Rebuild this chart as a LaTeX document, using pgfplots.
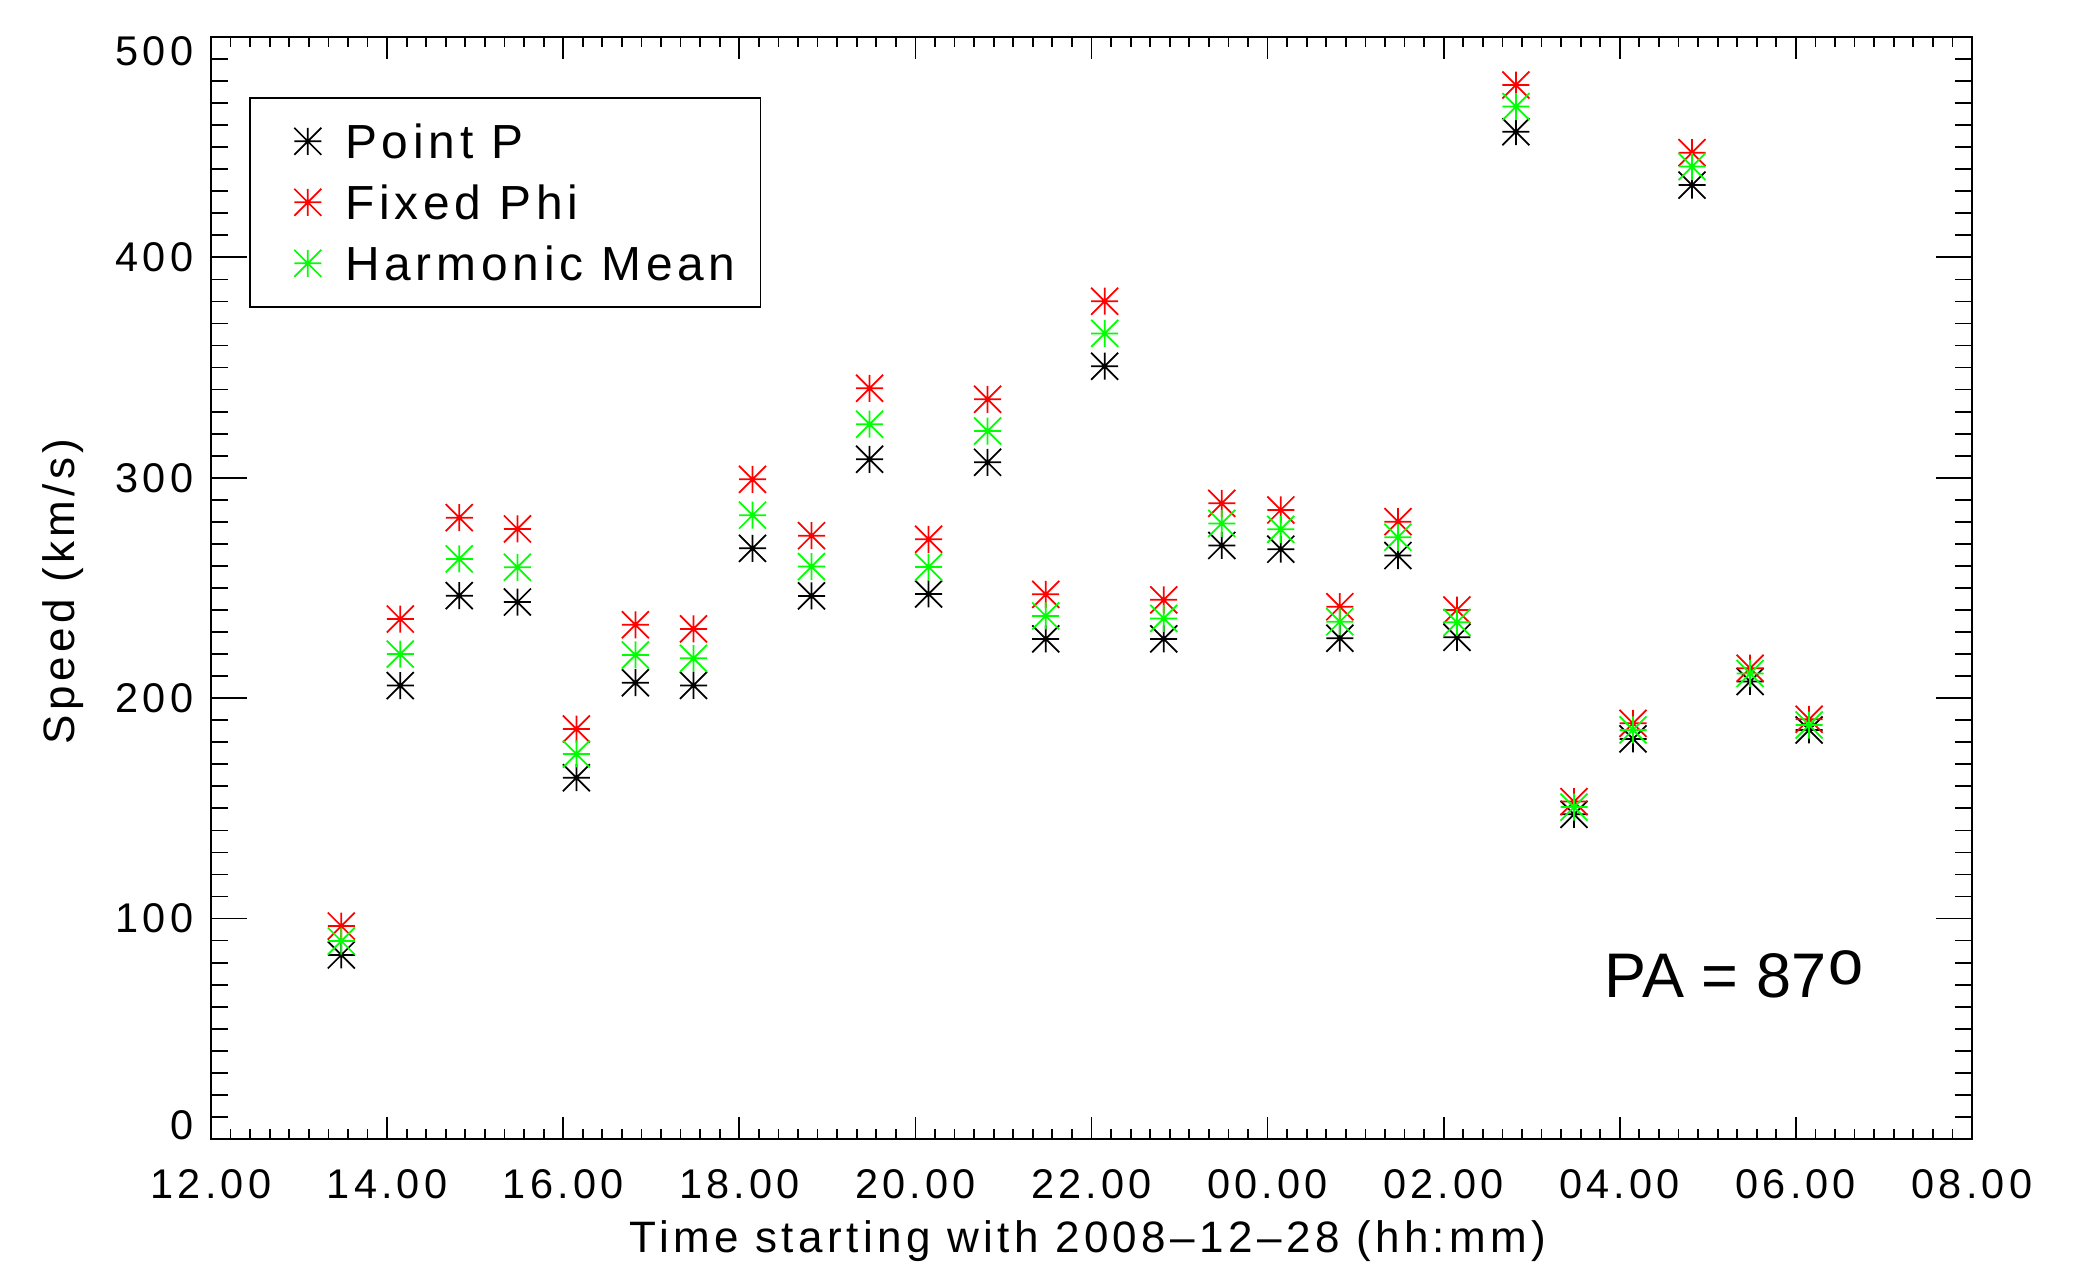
\documentclass[border=0pt]{standalone}
\usepackage{fontspec}
\setmainfont{Liberation Sans}[LetterSpace=10]
\newfontfamily\arialfont{Liberation Sans}
\usepackage{pgfplots}
\usepackage{pgfplotstable}
\pgfplotsset{compat=1.18}
\usetikzlibrary{calc}

% IDL-style asterisk: horizontal, vertical and both diagonals
\pgfdeclareplotmark{idlstar}{%
  \pgfpathmoveto{\pgfqpoint{-\pgfplotmarksize}{0pt}}%
  \pgfpathlineto{\pgfqpoint{\pgfplotmarksize}{0pt}}%
  \pgfpathmoveto{\pgfqpoint{0pt}{-\pgfplotmarksize}}%
  \pgfpathlineto{\pgfqpoint{0pt}{\pgfplotmarksize}}%
  \pgfpathmoveto{\pgfqpoint{-\pgfplotmarksize}{-\pgfplotmarksize}}%
  \pgfpathlineto{\pgfqpoint{\pgfplotmarksize}{\pgfplotmarksize}}%
  \pgfpathmoveto{\pgfqpoint{-\pgfplotmarksize}{\pgfplotmarksize}}%
  \pgfpathlineto{\pgfqpoint{\pgfplotmarksize}{-\pgfplotmarksize}}%
  \pgfusepathqstroke}

\definecolor{idlred}{RGB}{255,0,0}
\definecolor{idlgreen}{RGB}{0,255,0}

% x = hours after 12:00 on 2008-12-28
\pgfplotstableread{
x      pp     fp     hm
1.48   83.5   96.6   89.8
2.15   205.7  235.9  220.0
2.82   246.5  281.9  263.2
3.48   243.6  276.8  259.4
4.15   163.9  186.0  174.7
4.82   207.0  233.3  219.6
5.48   205.8  231.4  218.1
6.15   268.0  299.3  283.0
6.82   246.4  273.7  259.7
7.48   308.4  340.6  324.3
8.15   247.3  272.1  259.5
8.82   307.0  335.6  321.2
9.48   226.9  247.1  237.3
10.15  350.6  380.1  365.5
10.82  226.9  244.6  236.2
11.48  269.3  288.4  279.3
12.15  267.6  285.4  276.6
12.82  227.2  241.5  234.7
13.48  264.7  280.1  273.0
14.15  227.6  240.0  234.4
14.82  457.0  478.2  468.4
15.48  147.3  153.1  150.6
16.15  181.5  188.6  185.6
16.82  432.8  447.5  441.2
17.48  207.6  213.6  211.2
18.15  185.6  190.4  187.8
}\speeds

\begin{document}
\begin{tikzpicture}
\begin{axis}[
    name=ax,
    scale only axis,
    width=352.2pt, height=220.4pt,
    xmin=0, xmax=20, ymin=0, ymax=500,
    axis line style={line width=0.35pt},
    every tick/.style={line width=0.35pt, black},
    tick align=inside,
    xtick={0,2,...,20},
    xticklabels={12.00,14.00,16.00,18.00,20.00,22.00,00.00,02.00,04.00,06.00,08.00},
    minor x tick num=8,
    ytick={0,100,...,500},
    yticklabels={{\raisebox{2.8pt}[\height][\depth]{0}},100,200,300,400,{\raisebox{-2.8pt}[\height][\depth]{500}}},
    minor y tick num=9,
    xtick style={/pgfplots/major tick length=4.4pt, /pgfplots/minor tick length=2pt},
    ytick style={/pgfplots/major tick length=7.2pt, /pgfplots/minor tick length=3.4pt},
    tick label style={font=\fontsize{8.3}{10}\selectfont},
    xticklabel style={yshift=-2.6pt},
    xlabel={Time starting with 2008--12--28 (hh:mm)},
    ylabel={Speed (km/s)},
    label style={font=\fontsize{8.8}{10}\selectfont},
    xlabel style={at={(axis description cs:0.498,-0.093)}, anchor=center},
    ylabel style={at={(axis description cs:-0.084,0.497)}, anchor=center},
    mark size=2.7pt,
    legend style={
        at={(0.0216,0.9456)}, anchor=north west,
        draw=black, line width=0.35pt,
        font=\fontsize{9.57}{11}\selectfont,
        inner xsep=3pt, inner ysep=2.6pt,
        row sep=0pt,
        nodes={text height=6.9pt, text depth=0pt, inner ysep=2.65pt},
        legend cell align=left,
    },
    legend image code/.code={%
        \path (-8.4pt,0pt) (5.3pt,0pt);
        \draw[#1, line width=0.35pt] plot coordinates {(0pt,0pt)};},
]
\addplot[only marks, mark=idlstar, draw=black, line width=0.35pt]
    table[x=x, y=pp] {\speeds};
\addlegendentry{Point P}
\addplot[only marks, mark=idlstar, draw=idlred, line width=0.35pt]
    table[x=x, y=fp] {\speeds};
\addlegendentry{Fixed Phi}
\addplot[only marks, mark=idlstar, draw=idlgreen, line width=0.35pt]
    table[x=x, y=hm] {\speeds};
\addlegendentry{Harmonic Mean}

\node[anchor=base west, font=\arialfont\fontsize{12.6}{14}\selectfont, inner sep=0pt]
    at (axis cs:15.82,64.4) {PA = 87\hspace{0.4pt}\raisebox{2.6pt}{o}};
\end{axis}
\pgfresetboundingbox
\path[use as bounding box] ($(ax.south west)+(-42.2pt,-25pt)$) rectangle ($(ax.north east)+(20.6pt,7.4pt)$);
\end{tikzpicture}
\end{document}
